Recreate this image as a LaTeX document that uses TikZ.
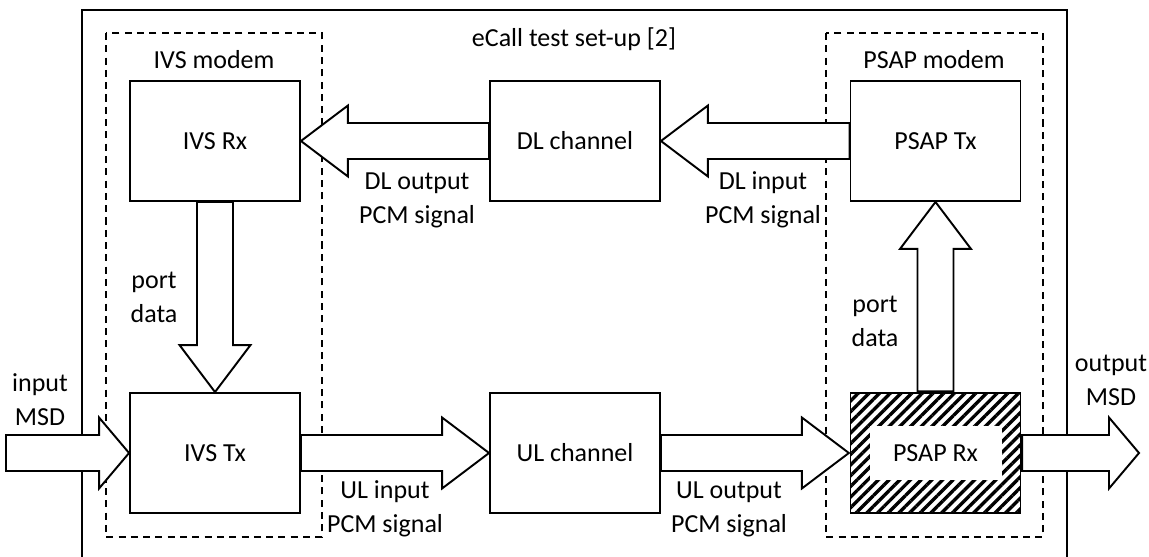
\documentclass[tikz,border=0pt]{standalone}
\usepackage{fontspec}
\setmainfont{Carlito}
\usetikzlibrary{calc,patterns.meta}

\tikzset{blockarrow/.style={fill=white,to path={($(\tikztotarget)!#1!(\tikztostart)$) coordinate (hb)
  ($(\tikztostart)!0.36cm!90:(\tikztotarget)$) -- ($(hb)!0.36cm!-90:(\tikztostart)$) -- ($(hb)!0.71cm!-90:(\tikztostart)$)
  -- (\tikztotarget) -- ($(hb)!0.71cm!90:(\tikztostart)$) -- ($(hb)!0.36cm!90:(\tikztostart)$) -- ($(\tikztostart)!0.36cm!-90:(\tikztotarget)$) -- cycle}},
  blockarrow/.default=0.94cm}

\begin{document}
\begin{tikzpicture}[x=0.02cm,y=-0.02cm,line width=1.1pt]
\tikzstyle{every node}=[font=\fontsize{14.8}{19.3}\selectfont]
\tikzstyle{block}=[draw,minimum width=3.4cm,minimum height=2.4cm,inner sep=0pt]
\tikzstyle{modem}=[dash pattern=on 4pt off 3pt]
\tikzstyle{label}=[align=center,inner sep=0pt]
\useasboundingbox (0,0) rectangle (1149,557);
\draw (82,557) -- (82,10) -- (1067,10) -- (1067,557);
\draw [modem] (106,33) rectangle (322,537);
\draw [modem] (826,33) rectangle (1043,537);
\node [anchor=base] (setup) at (574,47) {eCall test set-up [2]};
\node [anchor=base] (ivsmodem) at (214,69) {IVS modem};
\node [anchor=base] (psapmodem) at (934,69) {PSAP modem};
\node [block] (ivsrx) at (215,141) {IVS Rx};
\node [block] (dlch) at (575,141) {DL channel};
\node [block] (psaptx) at (935.5,141) {PSAP Tx};
\node [block] (ivstx) at (215,453) {IVS Tx};
\node [block] (ulch) at (575,453) {UL channel};
\node [block,pattern={Lines[angle=45,distance=4.3pt,line width=1.9pt]},pattern color=black] (psaprx) at (935.5,453) {};
\node [fill=white,minimum width=2.64cm,minimum height=1.1cm] (psaprxtext) at (psaprx) {PSAP Rx};
\node [label] (dlout) at (417,200) {DL output\\PCM signal};
\node [label] (dlin) at (763,200) {DL input\\PCM signal};
\node [label] (ulin) at (385,509) {UL input\\PCM signal};
\node [label] (ulout) at (729,509) {UL output\\PCM signal};
\node [label] (portl) at (154,297) {port\\data};
\node [label] (portr) at (875,321) {port\\data};
\node [label] (msdinl) at (40,400) {input\\MSD};
\node [label] (msdoutl) at (1111,380) {output\\MSD};
\coordinate (msdin) at (6,453);
\coordinate (msdout) at (1139,453);
\draw [blockarrow=0.6cm] (msdin) to (ivstx.west);
\draw [blockarrow] (ivstx.east) to (ulch.west);
\draw [blockarrow] (ulch.east) to (psaprx.west);
\draw [blockarrow=0.6cm] (psaprx.east) to (msdout);
\draw [blockarrow] (psaptx.west) to (dlch.east);
\draw [blockarrow] (dlch.west) to (ivsrx.east);
\draw [blockarrow] (ivsrx.south) to (ivstx.north);
\draw [blockarrow] (psaprx.north) to (psaptx.south);
\end{tikzpicture}
\end{document}
